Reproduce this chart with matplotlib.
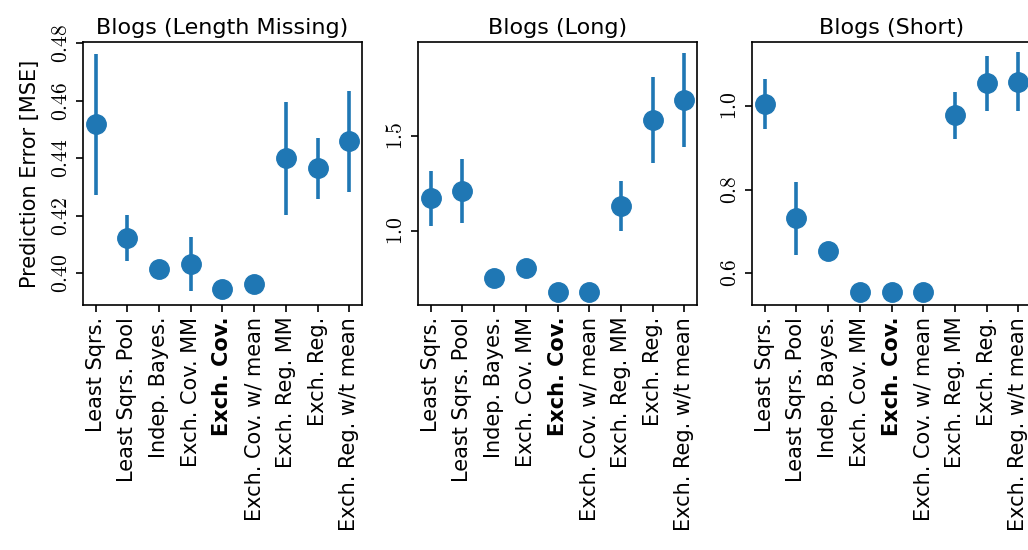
import numpy as np
import matplotlib.pyplot as plt
from matplotlib.ticker import FormatStrFormatter

plt.rcParams['mathtext.fontset'] = 'cm'
plt.rcParams['font.family'] = 'DejaVu Sans'

# Methoden (x-Achse)
methods = ["Least Sqrs.", "Least Sqrs. Pool", "Indep. Bayes.", "Exch. Cov. MM",
           "Exch. Cov.", "Exch. Cov. w/ mean", "Exch. Reg. MM", "Exch. Reg.",
           "Exch. Reg. w/t mean"]

titles = ["Blogs (Length Missing)", "Blogs (Long)", "Blogs (Short)"]

# Mittelwerte und Fehler pro Datensatz
mse_missing = [0.4518, 0.4123, 0.4014, 0.4031, 0.3945, 0.3964, 0.4400, 0.4365, 0.4460]
err_missing = [0.0245, 0.0081, 0.0008, 0.0094, 0.0003, 0.0003, 0.0196, 0.0106, 0.0176]

mse_long = [1.170, 1.209, 0.749, 0.802, 0.676, 0.679, 1.132, 1.583, 1.688]
err_long = [0.144, 0.170, 0.008, 0.008, 0.005, 0.005, 0.132, 0.225, 0.248]

mse_short = [1.004, 0.731, 0.652, 0.555, 0.555, 0.555, 0.978, 1.054, 1.058]
err_short = [0.060, 0.088, 0.018, 0.003, 0.003, 0.003, 0.056, 0.066, 0.070]

ylims = [(0.389, 0.4805), (0.609, 1.993), (0.524, 1.153)]
yticks = [[0.40, 0.42, 0.44, 0.46, 0.48], [1.0, 1.5], [0.6, 0.8, 1.0]]
yfmt = ['$%.2f$', '$%.1f$', '$%.1f$']

data = [(mse_missing, err_missing), (mse_long, err_long), (mse_short, err_short)]
lefts = [83, 418, 752]

fig = plt.figure(figsize=(10.28, 5.5), dpi=100)
x = np.arange(len(methods))

for i, (mse, err) in enumerate(data):
    ax = fig.add_axes([lefts[i] / 1028, 1 - 305 / 550, 279 / 1028, 263 / 550])
    ax.errorbar(x, mse, yerr=err, fmt='o', color='#1f77b4', markersize=14,
                elinewidth=2.6, capsize=0)
    ax.set_xlim(-0.4, 8.4)
    ax.set_ylim(*ylims[i])
    ax.set_yticks(yticks[i])
    ax.yaxis.set_major_formatter(FormatStrFormatter(yfmt[i]))
    ax.tick_params(axis='y', labelrotation=90, labelsize=15.5, length=5, width=1.2)
    for lab in ax.get_yticklabels():
        lab.set_va('center')
    ax.set_xticks(x)
    ax.set_xticklabels(methods, rotation=90, fontsize=15)
    ax.tick_params(axis='x', length=5, width=1.2)
    ax.get_xticklabels()[4].set_fontweight('bold')
    for s in ax.spines.values():
        s.set_linewidth(1.2)
    ax.set_title(titles[i], fontsize=16)
    if i == 0:
        ax.set_ylabel("Prediction Error [MSE]", fontsize=15, labelpad=8)

plt.savefig("out.png", dpi=100)
